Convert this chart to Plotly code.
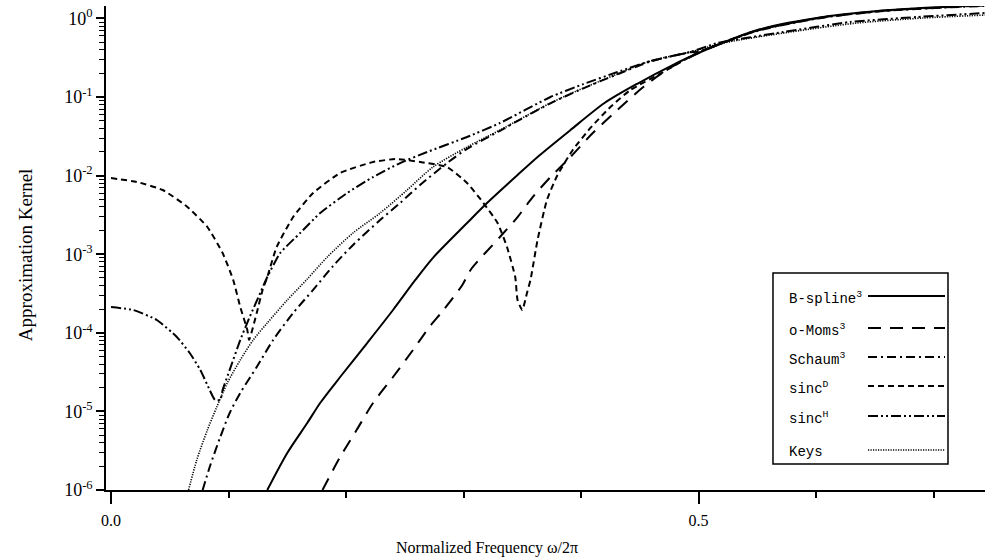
import plotly.graph_objects as go

# ---------------- data ----------------
bspline_f = [0.133, 0.150, 0.167, 0.178, 0.195, 0.218, 0.240, 0.259, 0.274, 0.303, 0.320,
             0.346, 0.365, 0.391, 0.420, 0.449, 0.478, 0.500, 0.550, 0.606, 0.663, 0.744]
bspline_v = [1.0e-6, 2.96e-6, 7.11e-6, 1.28e-5, 2.74e-5, 7.41e-5, 1.95e-4, 4.70e-4, 9.00e-4,
             2.49e-3, 4.48e-3, 1.019e-2, 1.828e-2, 3.80e-2, 8.39e-2, 0.1507, 0.255, 0.363,
             0.711, 1.042, 1.279, 1.479]

omoms_f = [0.180, 0.195, 0.209, 0.223, 0.240, 0.257, 0.271, 0.283, 0.299, 0.306, 0.331,
           0.346, 0.359, 0.374, 0.391, 0.410, 0.431, 0.453, 0.473, 0.500, 0.550, 0.606,
           0.663, 0.744]
omoms_v = [1.0e-6, 2.63e-6, 5.79e-6, 1.28e-5, 2.74e-5, 6.04e-5, 1.186e-4, 1.95e-4, 4.06e-4,
           6.30e-4, 1.656e-3, 2.97e-3, 5.35e-3, 9.59e-3, 1.726e-2, 3.48e-2, 6.84e-2, 0.134,
           0.221, 0.363, 0.700, 1.030, 1.270, 1.470]

schaum_f = [0.078, 0.084, 0.093, 0.101, 0.110, 0.124, 0.138, 0.155, 0.172, 0.189, 0.206,
            0.229, 0.246, 0.263, 0.286, 0.303, 0.331, 0.374, 0.402, 0.431, 0.459, 0.493,
            0.500, 0.550, 0.606, 0.663, 0.744]
schaum_v = [1.0e-6, 1.96e-6, 4.72e-6, 9.55e-6, 1.714e-5, 3.67e-5, 8.09e-5, 1.786e-4, 3.51e-4,
            7.08e-4, 1.31e-3, 2.72e-3, 4.48e-3, 7.59e-3, 1.445e-2, 2.19e-2, 3.72e-2, 8.32e-2,
            0.129, 0.195, 0.282, 0.372, 0.380, 0.692, 1.023, 1.259, 1.445]

sincd_f = [0.0, 0.022, 0.044, 0.065, 0.082, 0.095, 0.104, 0.110, 0.116, 0.1175, 0.124, 0.129,
           0.133, 0.141, 0.155, 0.172, 0.195, 0.223, 0.243, 0.263, 0.286, 0.303, 0.317, 0.329,
           0.337, 0.344, 0.346, 0.350, 0.354, 0.357, 0.363, 0.371, 0.380, 0.393, 0.408, 0.425,
           0.442, 0.470, 0.500, 0.550, 0.606, 0.663, 0.744]
sincd_v = [9.31e-3, 8.30e-3, 6.56e-3, 3.99e-3, 2.22e-3, 1.035e-3, 4.70e-4, 2.13e-4, 1.086e-4,
           8.09e-5, 1.786e-4, 3.51e-4, 5.13e-4, 1.236e-3, 2.97e-3, 6.01e-3, 1.079e-2, 1.49e-2,
           1.626e-2, 1.49e-2, 1.285e-2, 8.05e-3, 4.48e-3, 2.49e-3, 1.236e-3, 5.13e-4, 2.61e-4,
           1.95e-4, 3.21e-4, 4.70e-4, 1.517e-3, 4.90e-3, 1.019e-2, 2.12e-2, 4.04e-2, 7.46e-2,
           0.1227, 0.208, 0.372, 0.708, 1.035, 1.274, 1.462]

sinch_f = [0.0, 0.019, 0.039, 0.056, 0.067, 0.076, 0.084, 0.0885, 0.093, 0.095, 0.101, 0.110,
           0.118, 0.127, 0.133, 0.144, 0.161, 0.178, 0.201, 0.223, 0.246, 0.269, 0.303, 0.331,
           0.374, 0.402, 0.431, 0.459, 0.493, 0.516, 0.572, 0.629, 0.686, 0.744]
sinch_v = [2.13e-4, 1.95e-4, 1.455e-4, 8.85e-5, 5.53e-5, 3.37e-5, 1.87e-5, 1.40e-5, 1.40e-5,
           1.87e-5, 3.37e-5, 8.09e-5, 1.59e-4, 3.21e-4, 5.13e-4, 1.035e-3, 1.862e-3, 3.34e-3,
           6.01e-3, 9.59e-3, 1.445e-2, 1.995e-2, 3.10e-2, 4.67e-2, 0.100, 0.146, 0.208, 0.287,
           0.374, 0.486, 0.671, 0.900, 1.042, 1.172]

keys_f = [0.066, 0.073, 0.082, 0.090, 0.099, 0.110, 0.121, 0.133, 0.150, 0.167, 0.184, 0.206,
          0.229, 0.252, 0.274, 0.303, 0.331, 0.374, 0.402, 0.431, 0.459, 0.493, 0.521, 0.578,
          0.635, 0.691, 0.744]
keys_v = [1.0e-6, 2.41e-6, 5.79e-6, 1.138e-5, 2.30e-5, 4.51e-5, 8.09e-5, 1.334e-4, 2.61e-4,
          4.83e-4, 9.20e-4, 1.862e-3, 3.34e-3, 6.56e-3, 1.285e-2, 2.31e-2, 3.80e-2, 8.39e-2,
          0.130, 0.196, 0.287, 0.374, 0.486, 0.671, 0.873, 1.012, 1.104]

y_tickvals = [1e-6, 1e-5, 1e-4, 1e-3, 1e-2, 1e-1, 1e0]
y_ticktext = ["10<sup>-6</sup>", "10<sup>-5</sup>", "10<sup>-4</sup>", "10<sup>-3</sup>",
              "10<sup>-2</sup>", "10<sup>-1</sup>", "10<sup>0</sup>"]
x_tickvals = [0.0, 0.5]
x_ticktext = ["0.0", "0.5"]

legend_labels = ["B-spline<sup>3</sup>", "o-Moms<sup>3</sup>", "Schaum<sup>3</sup>",
                 "sinc<sup>D</sup>", "sinc<sup>H</sup>", "Keys"]

# ---------------- styles ----------------
series = [
    (bspline_f, bspline_v, "solid", 2.0, 0.8),
    (omoms_f, omoms_v, "13px,9px", 2.0, 0.8),
    (schaum_f, schaum_v, "9px,4px,2px,4px", 2.0, 0.8),
    (sincd_f, sincd_v, "6px,4px", 2.0, 0.5),
    (sinch_f, sinch_v, "10px,3px,2px,3px,2px,3px", 2.0, 0.5),
    (keys_f, keys_v, "1.2px,1.3px", 1.6, 0.8),
]

fig = go.Figure()
for (f, v, dash, w, sm), name in zip(series, legend_labels):
    fig.add_trace(go.Scatter(x=f, y=v, mode="lines", name=name,
                             line=dict(color="black", width=w, dash=dash,
                                       shape="spline", smoothing=sm),
                             showlegend=False, hoverinfo="skip"))

serif = "Liberation Serif"
mono = "Liberation Mono"

# minor log ticks (2..9 per decade)
minor_vals = []
for e in range(-6, 1):
    for k in range(2, 10):
        minor_vals.append(k * 10.0 ** e)

fig.update_layout(
    width=985, height=557,
    margin=dict(l=106, r=0, t=6, b=67),
    plot_bgcolor="white", paper_bgcolor="white",
    xaxis=dict(range=[-0.00426, 0.7438], showgrid=False, zeroline=False,
               showline=True, linecolor="black", linewidth=1.5,
               tickmode="array", tickvals=x_tickvals, ticktext=x_ticktext,
               ticks="outside", ticklen=12, tickwidth=1.5, tickcolor="black",
               ticklabelstandoff=3,
               tickfont=dict(family=serif, size=16, color="black"),
               minor=dict(tickmode="linear", tick0=0, dtick=0.1, ticks="outside",
                          ticklen=6, tickwidth=1.5, tickcolor="black", showgrid=False)),
    yaxis=dict(type="log", range=[-6, 0.158], showgrid=False, zeroline=False,
               showline=True, linecolor="black", linewidth=1.5,
               tickmode="array", tickvals=y_tickvals, ticktext=y_ticktext,
               ticks="outside", ticklen=8, tickwidth=1.5, tickcolor="black",
               tickfont=dict(family=serif, size=18, color="black"),
               minor=dict(tickmode="array", tickvals=minor_vals, ticks="outside",
                          ticklen=5, tickwidth=1.2, tickcolor="black", showgrid=False)),
)

# axis titles
fig.add_annotation(text="Normalized Frequency ω/2π", xref="paper", yref="paper",
                   x=0.4334, y=-0.12, xanchor="center", yanchor="middle", showarrow=False,
                   font=dict(family=serif, size=16, color="black"))
fig.add_annotation(text="Approximation Kernel", xref="paper", yref="paper",
                   x=-0.092, y=0.4855, xanchor="center", yanchor="middle", showarrow=False,
                   textangle=-90, font=dict(family=serif, size=19, color="black"))

# hand-drawn legend box (text on the left, sample on the right)
fig.add_shape(type="rect", xref="paper", yref="paper", x0=0.7588, x1=0.9579,
              y0=0.0537, y1=0.4483, line=dict(color="black", width=1.5),
              fillcolor="white", layer="above")
entry_y = [0.3967, 0.3306, 0.2707, 0.2107, 0.1488, 0.0785]
for (f, v, dash, w, sm), label, yy in zip(series, legend_labels, entry_y):
    fig.add_shape(type="line", xref="paper", yref="paper", x0=0.8669, x1=0.9545,
                  y0=yy + 0.004, y1=yy + 0.004, line=dict(color="black", width=w, dash=dash),
                  layer="above")
    fig.add_annotation(text=label, xref="paper", yref="paper", x=0.7747, y=yy,
                       xanchor="left", yanchor="middle", showarrow=False,
                       font=dict(family=mono, size=14, color="black"))

fig.write_html("out.html", config={"displayModeBar": False},
               post_script="document.body.style.margin='0';document.body.style.overflow='hidden';")
